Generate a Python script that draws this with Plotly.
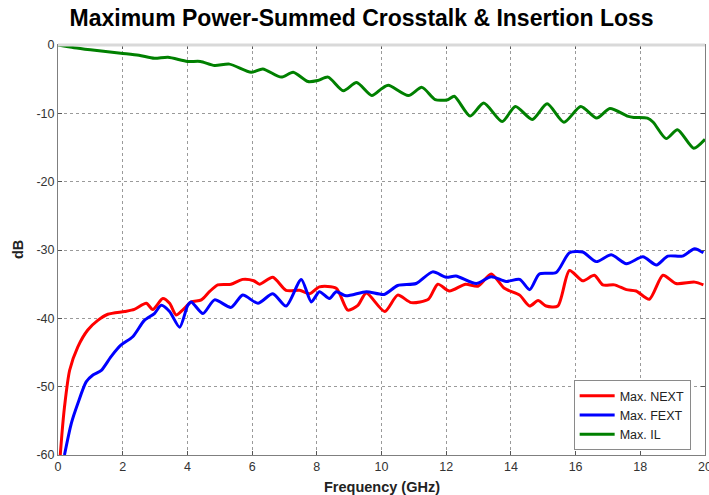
import plotly.graph_objects as go

# ---- data ----
il_freq = [0, 0.5, 1.0, 1.94, 2.5, 2.98, 3.4, 4.0, 4.4, 4.84, 5.3, 5.97, 6.33, 6.9, 7.27,
           7.73, 8.03, 8.35, 8.82, 9.23, 9.7, 10.0, 10.21, 10.83, 11.25, 11.66, 12.05, 12.25,
           12.74, 13.16, 13.73, 14.14, 14.66, 15.12, 15.64, 16.16, 16.65, 17.06, 17.6, 17.8,
           18.22, 18.4, 18.8, 19.15, 19.65, 20.0]
il_db = [0, -0.4, -0.7, -1.2, -1.5, -1.95, -1.8, -2.4, -2.4, -3.0, -2.8, -4.0, -3.5, -4.7, -4.0,
         -5.35, -5.2, -4.7, -6.7, -5.5, -7.4, -6.4, -5.9, -7.4, -6.2, -8.0, -8.0, -7.5,
         -10.4, -8.5, -11.2, -9.0, -10.9, -8.6, -11.3, -9.0, -10.7, -9.3, -10.4, -10.6,
         -10.7, -11.3, -13.7, -12.4, -15.1, -13.8]

next_freq = [0.07, 0.12, 0.2, 0.36, 0.61, 0.92, 1.23, 1.54, 2.06, 2.36, 2.73, 2.93, 3.24, 3.45,
             3.65, 3.85, 4.12, 4.43, 4.68, 4.94, 5.35, 5.71, 6.05, 6.23, 6.64, 7.05, 7.47, 7.78,
             8.08, 8.6, 8.96, 9.27, 9.53, 10.1, 10.5, 10.92, 11.45, 11.74, 12.1, 12.6, 12.98,
             13.39, 13.8, 14.27, 14.58, 14.84, 15.09, 15.45, 15.81, 16.22, 16.58, 16.84, 17.2,
             17.57, 17.87, 18.28, 18.7, 19.1, 19.68, 19.95]
next_db = [-60, -57, -53, -47.6, -44.2, -41.7, -40.3, -39.4, -39.0, -38.7, -37.8, -38.7, -37.1, -37.8,
           -39.5, -38.8, -37.6, -37.3, -36.1, -35.1, -35.0, -34.3, -34.5, -35.0, -34.0, -35.9, -35.9, -36.4,
           -35.4, -35.6, -38.8, -38.1, -36.3, -39.0, -36.6, -37.7, -37.2, -35.0, -36.0, -35.0, -35.3,
           -33.5, -35.6, -36.6, -38.2, -37.4, -38.2, -38.2, -33.0, -34.5, -33.7, -35.1, -35.1,
           -35.8, -36.0, -37.2, -33.7, -34.9, -34.7, -35.1]

fext_freq = [0.2, 0.41, 0.61, 0.87, 1.08, 1.34, 1.64, 1.95, 2.31, 2.67, 2.98, 3.19, 3.45, 3.76, 4.01,
             4.12, 4.48, 4.84, 5.35, 5.71, 6.18, 6.64, 7.05, 7.52, 7.83, 8.08, 8.39, 8.6, 8.9, 9.53,
             10.08, 10.5, 11.07, 11.58, 12.0, 12.3, 12.93, 13.39, 13.85, 14.27, 14.58, 14.88, 15.4,
             15.81, 16.22, 16.64, 17.1, 17.57, 18.08, 18.5, 18.85, 19.3, 19.68, 19.95]
fext_db = [-60, -55.4, -52.5, -49.3, -48.3, -47.6, -45.6, -43.9, -42.7, -40.3, -39.3, -38.1, -39.0, -41.3, -38.1,
           -37.6, -39.3, -37.3, -38.4, -36.6, -37.8, -36.4, -38.2, -34.3, -37.6, -36.1, -37.1, -36.1, -36.7, -36.1,
           -36.5, -35.2, -34.9, -33.2, -34.0, -33.8, -34.9, -33.9, -34.6, -34.3, -35.8, -33.5, -33.3,
           -30.4, -30.3, -31.7, -30.7, -32.0, -31.0, -32.2, -30.9, -30.9, -29.8, -30.4]

x_ticks = [0, 2, 4, 6, 8, 10, 12, 14, 16, 18, 20]
y_ticks = [-60, -50, -40, -30, -20, -10, 0]

series = [
    ("Max. NEXT", next_freq, next_db, "#ff0000"),
    ("Max. FEXT", fext_freq, fext_db, "#0000ff"),
    ("Max. IL", il_freq, il_db, "#008000"),
]

FONT = "Liberation Sans, Arial, sans-serif"

fig = go.Figure()
for name, xs, ys, color in series:
    fig.add_trace(go.Scatter(
        x=xs, y=ys, mode="lines", name=name,
        line=dict(color=color, width=3, shape="spline", smoothing=0.7),
    ))

axis_common = dict(
    showgrid=True, gridcolor="#9a9a9a", griddash="dot", gridwidth=1,
    showline=True, linecolor="#7f7f7f", linewidth=1, mirror="ticks",
    ticks="inside", ticklen=4, tickcolor="#555555",
    zeroline=False, automargin=False, ticklabeloverflow="allow",
    tickfont=dict(family=FONT, size=12.5, color="#333333"),
)

fig.update_xaxes(range=[0, 20], tickvals=x_ticks, ticktext=[str(v) for v in x_ticks], **axis_common)
fig.update_yaxes(range=[-60, 0], tickvals=y_ticks, ticktext=[str(v) for v in y_ticks], **axis_common)

# light grey top frame like the reference
fig.add_shape(type="line", xref="paper", yref="paper", x0=0, x1=1, y0=1, y1=1,
              line=dict(color="#d9d9d9", width=3), layer="above")

# axis titles placed explicitly
fig.add_annotation(text="<b>Frequency (GHz)</b>", xref="paper", yref="paper",
                   x=0.5, y=0, yshift=-32, xanchor="center", yanchor="middle", showarrow=False,
                   font=dict(family=FONT, size=14.5, color="#222222"))
fig.add_annotation(text="<b>dB</b>", xref="paper", yref="paper", textangle=-90,
                   x=0, xshift=-40, y=0.5, xanchor="center", yanchor="middle", showarrow=False,
                   font=dict(family=FONT, size=14.5, color="#222222"))

fig.update_layout(
    width=709, height=495,
    margin=dict(l=58, r=4, t=45, b=40, autoexpand=False),
    paper_bgcolor="white", plot_bgcolor="white",
    title=dict(text="<b>Maximum Power-Summed Crosstalk & Insertion Loss</b>",
               x=0.51, xanchor="center", y=0.964, yanchor="middle",
               font=dict(family=FONT, size=23, color="#000000")),
    legend=dict(x=0.797, y=0.012, xanchor="left", yanchor="bottom",
                bgcolor="white", bordercolor="#8a8a8a", borderwidth=1,
                font=dict(family=FONT, size=12.5, color="#222222"),
                tracegroupgap=0, itemwidth=35),
    showlegend=True,
)

fig.write_html("out.html", config={"displayModeBar": False},
               post_script="document.body.style.margin='0';")
